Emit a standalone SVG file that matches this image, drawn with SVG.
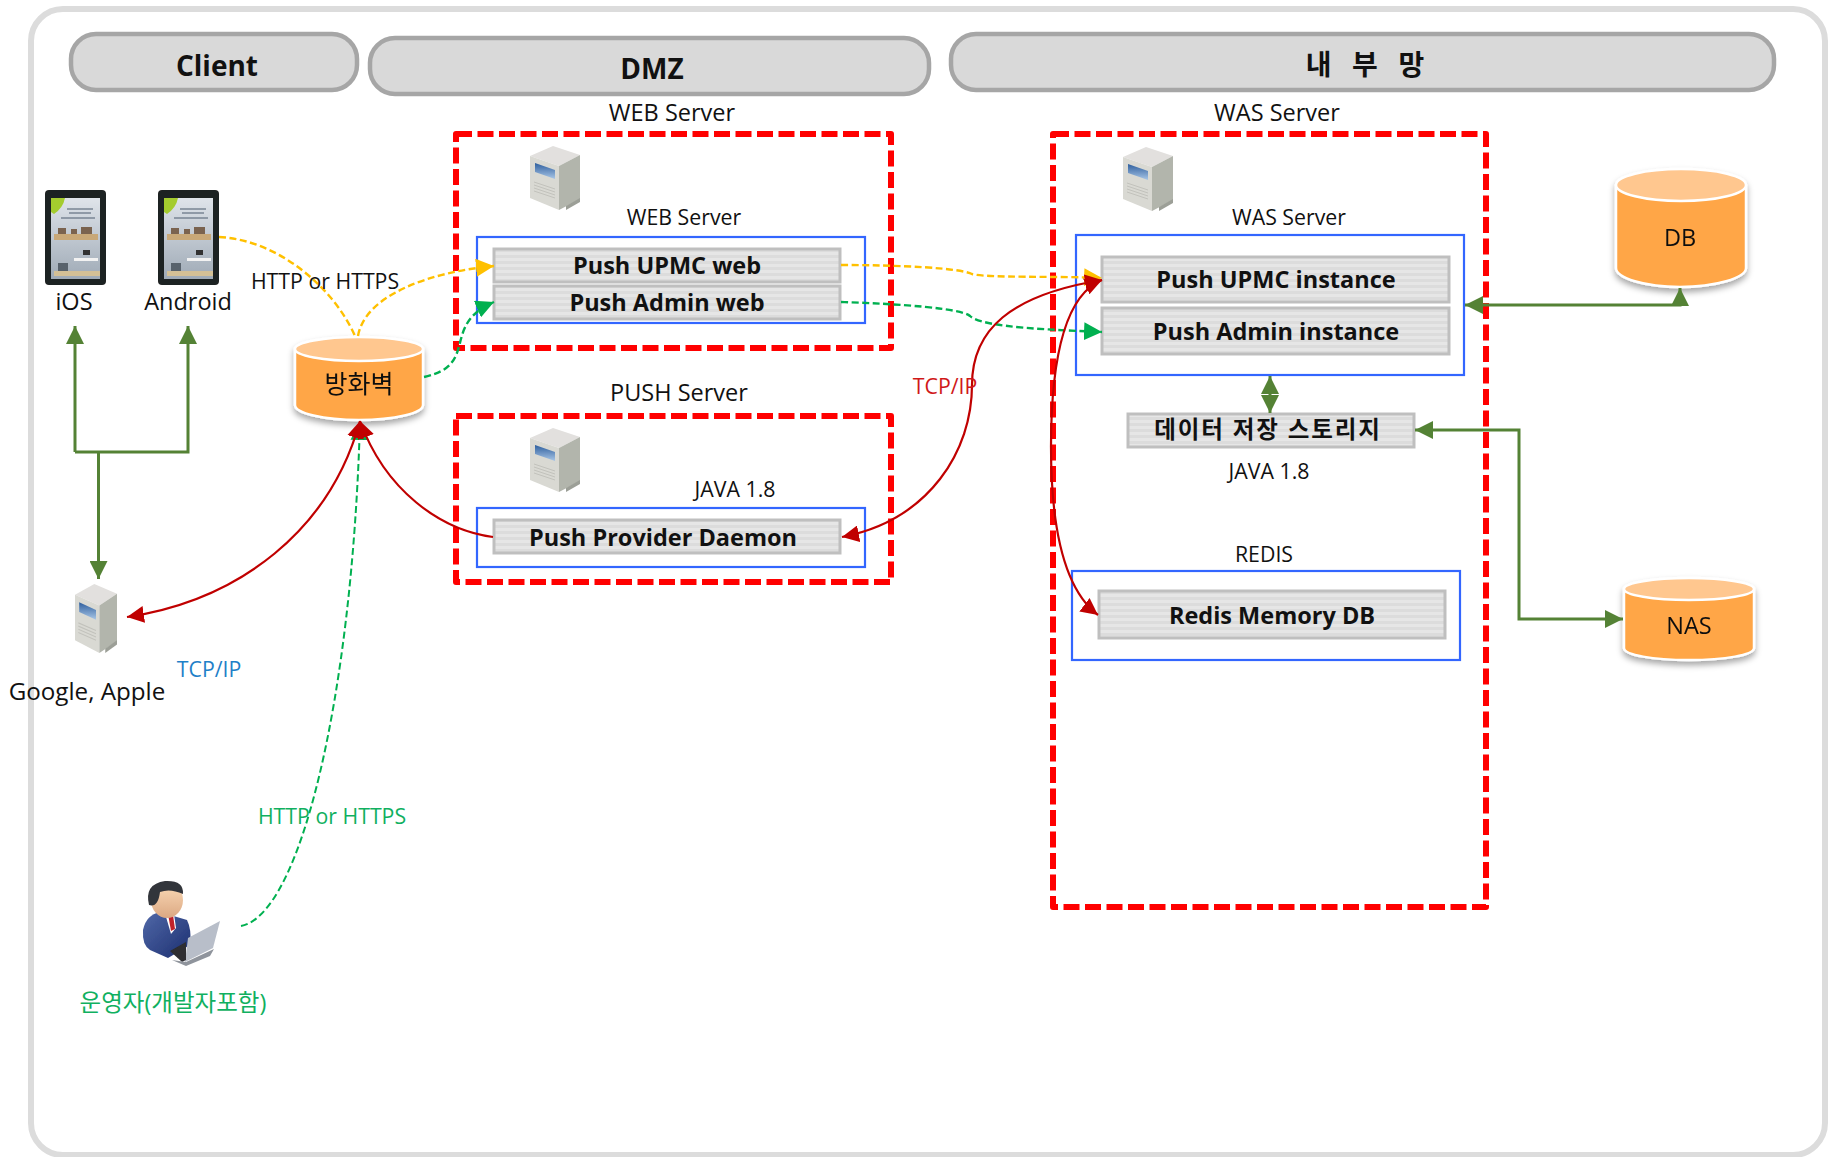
<svg xmlns="http://www.w3.org/2000/svg" xmlns:xlink="http://www.w3.org/1999/xlink" width="1838" height="1157" viewBox="0 0 1838 1157">
<style>
text{font-family:"Open Sans","Noto Sans CJK KR","Noto Sans",sans-serif;text-anchor:middle;dominant-baseline:central;fill:#111}
.hd{fill:#d9d9d9;stroke:#a6a6a6;stroke-width:4.5}
.hdt{font-weight:700;font-size:28px}
.zone{fill:none;stroke:#ff0000;stroke-width:6;stroke-dasharray:16 5.5;stroke-linejoin:round}
.box{fill:#fff;stroke:#3366ff;stroke-width:2.2}
.bar{fill:url(#stripe);stroke:#bfbfbf;stroke-width:3}
.bart{font-weight:700;font-size:23.500px}
.lbl{font-size:23.500px}
.sm{font-size:21.300px}
.cyl{fill:#ffa646;stroke:#fff;stroke-width:2.5}
.cylt{fill:#ffc78f;stroke:#fff;stroke-width:2.5}
.c{fill:none}
.gs{stroke:#548235;stroke-width:3}
.rs{stroke:#c00000;stroke-width:2.2}
.yd{stroke:#ffc000;stroke-width:2.4;stroke-dasharray:7 3.5}
.gd{stroke:#00b050;stroke-width:2.4;stroke-dasharray:7 3.5}
</style>
<defs>
<pattern id="stripe" width="6" height="6" patternUnits="userSpaceOnUse"><rect width="6" height="6" fill="#e6e6e6"/><rect y="3" width="6" height="3" fill="#dcdcdc"/></pattern>
<linearGradient id="scr" x1="0" y1="0" x2="0" y2="1"><stop offset="0" stop-color="#2e5f9e"/><stop offset="1" stop-color="#a9c6e6"/></linearGradient>
<linearGradient id="wall" x1="0" y1="0" x2="0" y2="1"><stop offset="0" stop-color="#dfe4ea"/><stop offset="1" stop-color="#9faab6"/></linearGradient>
<linearGradient id="suit" x1="0" y1="0" x2="1" y2="1"><stop offset="0" stop-color="#5068a8"/><stop offset="1" stop-color="#1c2f70"/></linearGradient>
<linearGradient id="skin" x1="0" y1="0" x2="0" y2="1"><stop offset="0" stop-color="#fbdcb8"/><stop offset="1" stop-color="#dca883"/></linearGradient>
<filter id="sh" x="-10%" y="-10%" width="120%" height="125%"><feDropShadow dx="0" dy="4" stdDeviation="3" flood-color="#000" flood-opacity=".35"/></filter>
<filter id="soft" x="-5%" y="-5%" width="110%" height="110%"><feGaussianBlur stdDeviation=".5"/></filter>
<marker id="gh" viewBox="0 0 18 18" refX="18" refY="9" markerWidth="18" markerHeight="18" markerUnits="userSpaceOnUse" orient="auto-start-reverse"><path d="M0 0L18 9L0 18Z" fill="#548235"/></marker>
<marker id="rh" viewBox="0 0 18 18" refX="18" refY="9" markerWidth="17" markerHeight="17" markerUnits="userSpaceOnUse" orient="auto-start-reverse"><path d="M0 0L18 9L0 18Z" fill="#c00000"/></marker>
<marker id="yh" viewBox="0 0 18 18" refX="18" refY="9" markerWidth="18" markerHeight="18" markerUnits="userSpaceOnUse" orient="auto"><path d="M0 0L18 9L0 18Z" fill="#ffc000"/></marker>
<marker id="dh" viewBox="0 0 18 18" refX="18" refY="9" markerWidth="18" markerHeight="18" markerUnits="userSpaceOnUse" orient="auto"><path d="M0 0L18 9L0 18Z" fill="#00b050"/></marker>
<g id="srv" filter="url(#soft)">
<polygon points="0,10 23,0 50,9 29,20" fill="#e2e0de"/>
<polygon points="0,10 29,20 29,64 0,52" fill="#d9d9d3"/>
<polygon points="29,20 50,9 50,53 29,64" fill="#b2b5ac"/>
<polygon points="5,17 25,24 25,33 5,26" fill="url(#scr)"/>
<path d="M4 36L25 43M4 39L25 46M4 42L25 49M4 45L25 52" stroke="#c2c2bc" stroke-width="1"/>
<polygon points="36,60 50,52 50,56 36,64" fill="#9c9f97"/>
</g>
<g id="tab" filter="url(#soft)">
<rect width="61" height="95" rx="4" fill="#1f2020"/>
<rect x="6" y="8" width="49" height="81" fill="url(#wall)"/>
<path d="M6 8H20Q18 18 9 24L6 22Z" fill="#a4cc2e"/>
<path d="M22 19H48M24 23H46M16 28H50" stroke="#7a8594" stroke-width="1.600"/>
<rect x="9" y="44" width="44" height="6" fill="#c8a878"/>
<path d="M13 44V38H21V44M26 44V39H32V44M36 44V37H47V44" fill="#7a6450"/>
<rect x="29" y="68" width="24" height="3" fill="#f2f2f2"/>
<rect x="38" y="60" width="7" height="5" fill="#333"/>
<rect x="9" y="81" width="46" height="5" fill="#d4c096"/>
<rect x="13" y="73" width="10" height="8" fill="#59626c"/>
</g>
</defs>

<rect id="frame" x="31" y="9" width="1794" height="1146" rx="32" fill="#fff" stroke="#dcdcdc" stroke-width="6"/>

<g id="hdr-client"><rect class="hd" x="71" y="34" width="286" height="56" rx="25"/><text class="hdt" x="217" y="65">Client</text></g>
<g id="hdr-dmz"><rect class="hd" x="370" y="38" width="559" height="56" rx="25"/><text class="hdt" x="652" y="68">DMZ</text></g>
<g id="hdr-internal"><rect class="hd" x="951" y="34" width="823" height="56" rx="25"/><text class="hdt" x="1366" y="64" xml:space="preserve" letter-spacing="2">내  부  망</text></g>

<g id="web-zone"><rect class="zone" x="456" y="134" width="435" height="214"/><text class="lbl" x="672" y="112">WEB Server</text>
<use xlink:href="#srv" href="#srv" x="530" y="146"/><text class="sm" x="684" y="216">WEB Server</text></g>
<g id="push-zone"><rect class="zone" x="456" y="416" width="435" height="166"/><text class="lbl" x="679" y="392">PUSH Server</text>
<use xlink:href="#srv" href="#srv" x="530" y="428"/><text class="sm" x="735" y="488">JAVA 1.8</text></g>
<g id="was-zone"><rect class="zone" x="1053" y="134" width="433" height="773"/><text class="lbl" x="1277" y="112">WAS Server</text>
<use xlink:href="#srv" href="#srv" x="1123" y="147"/><text class="sm" x="1289" y="216">WAS Server</text></g>

<g id="web-box"><rect class="box" x="477" y="237" width="388" height="86"/>
<g id="push-upmc-web"><rect class="bar" x="494" y="249" width="346" height="33"/><text class="bart" x="667" y="265">Push UPMC web</text></g>
<g id="push-admin-web"><rect class="bar" x="494" y="286" width="346" height="33"/><text class="bart" x="667" y="302">Push Admin web</text></g></g>

<g id="push-box"><rect class="box" x="477" y="508" width="388" height="59"/>
<g id="push-provider"><rect class="bar" x="494" y="520" width="346" height="33"/><text class="bart" x="663" y="537">Push Provider Daemon</text></g></g>

<g id="was-box"><rect class="box" x="1076" y="235" width="388" height="140"/>
<g id="push-upmc-inst"><rect class="bar" x="1102" y="257" width="347" height="45"/><text class="bart" x="1276" y="279">Push UPMC instance</text></g>
<g id="push-admin-inst"><rect class="bar" x="1102" y="308" width="347" height="46"/><text class="bart" x="1276" y="331">Push Admin instance</text></g></g>

<g id="storage"><rect class="bar" x="1128" y="414" width="286" height="33"/><text class="bart" x="1268" y="429" letter-spacing="1.900">데이터 저장 스토리지</text><text class="sm" x="1269" y="470">JAVA 1.8</text></g>

<g id="redis"><text class="sm" x="1264" y="553">REDIS</text><rect class="box" x="1072" y="571" width="388" height="89"/>
<rect class="bar" x="1099" y="591" width="346" height="47"/><text class="bart" x="1272" y="615">Redis Memory DB</text></g>

<g id="db" filter="url(#sh)"><path class="cyl" d="M1616 186V268C1616 278 1645 287 1680 287S1746 278 1746 268V186Z"/><ellipse class="cylt" cx="1681" cy="185" rx="65" ry="16"/><text class="lbl" x="1680" y="237">DB</text></g>
<g id="nas" filter="url(#sh)"><path class="cyl" d="M1624 589V648C1624 655 1653 660 1689 660S1754 655 1754 648V589Z"/><ellipse class="cylt" cx="1689" cy="589" rx="65" ry="11"/><text class="lbl" x="1689" y="625">NAS</text></g>
<g id="firewall" filter="url(#sh)"><path class="cyl" d="M295 349V405C295 413 323 420 359 420S423 413 423 405V349Z"/><ellipse class="cylt" cx="359" cy="349" rx="64" ry="12"/><text class="lbl" x="359" y="383" style="font-size:25px">방화벽</text></g>

<g id="ios"><use xlink:href="#tab" href="#tab" x="45" y="190"/><text class="lbl" x="74" y="301">iOS</text></g>
<g id="android"><use xlink:href="#tab" href="#tab" x="158" y="190"/><text class="lbl" x="188" y="301">Android</text></g>
<g id="google-apple"><use xlink:href="#srv" href="#srv" transform="translate(75 584) scale(.84 1.08)"/><text class="lbl" x="87" y="690" style="font-size:24.200px">Google, Apple</text></g>

<g id="operator" filter="url(#soft)">
<path d="M143 930Q146 915 160 912L187 920Q192 930 190 945L168 958L150 950Q142 945 143 930Z" fill="url(#suit)"/>
<polygon points="164,910 174,914 176,928 171,934" fill="#fff"/>
<polygon points="168,914 173,915 175,929 171,931" fill="#c0202a"/>
<ellipse cx="167" cy="900" rx="16" ry="18" fill="url(#skin)"/>
<path d="M149 905Q144 884 165 881Q184 880 183 894Q170 888 160 892Q158 908 149 905Z" fill="#33343a"/>
<polygon points="188,938 220,921 213,948 185,962" fill="#b8bec9"/>
<polygon points="170,951 186,942 186,960 182,962" fill="#2d2d30"/>
<polygon points="172,960 186,962 214,949 210,956 186,966" fill="#8f949c"/>
</g>

<g id="connectors" class="c">
<path class="gs c" d="M75 452V326" marker-end="url(#gh)"/>
<path class="gs c" d="M75 452H188V326" marker-end="url(#gh)"/>
<path class="gs c" d="M98.500 452V579" marker-end="url(#gh)"/>
<path class="yd c" d="M219 237C280 240 335 290 355 336"/>
<path class="yd c" d="M358 336C365 295 430 272 494 266" marker-end="url(#yh)"/>
<path class="gd c" d="M424 377C480 365 440 325 494 302" marker-end="url(#dh)"/>
<path class="gd c" d="M841 302C900 304 960 308 970 316C982 328 1060 330 1102 332" marker-end="url(#dh)"/>
<path class="gd c" style="stroke-width:2" d="M241 926C300 915 352 700 360 422" marker-end="url(#dh)"/>
<path class="rs c" d="M493 537C440 530 385 490 360 421" marker-end="url(#rh)"/>
<path class="rs c" d="M127 617C240 600 330 530 360 421" marker-start="url(#rh)" marker-end="url(#rh)"/>
<path class="yd c" d="M841 265C900 265 960 268 972 274C985 278 1060 276 1102 278" marker-end="url(#yh)"/>
<path class="rs c" d="M842 537C930 520 972 450 972 385C972 330 1010 295 1102 280" marker-start="url(#rh)" marker-end="url(#rh)"/>
<path class="rs c" d="M1102 280C1065 295 1051 360 1051 447C1051 530 1065 590 1098 615" marker-start="url(#rh)" marker-end="url(#rh)"/>
<path class="gs c" d="M1465 305H1680V288" marker-start="url(#gh)" marker-end="url(#gh)"/>
<path class="gs c" d="M1415 430H1519V619H1623" marker-start="url(#gh)" marker-end="url(#gh)"/>
<path class="gs c" d="M1270 376V413" marker-start="url(#gh)" marker-end="url(#gh)"/>
</g>

<g id="labels">
<text class="sm" x="325" y="280">HTTP or HTTPS</text>
<text class="sm" x="945" y="385" style="fill:#d01818">TCP/IP</text>
<text class="sm" x="209" y="668" style="fill:#1f80c8">TCP/IP</text>
<text class="sm" x="332" y="815" style="fill:#10b060">HTTP or HTTPS</text>
<text class="sm" x="173" y="1002" style="fill:#10b060;font-size:23.500px">운영자(개발자포함)</text>
</g>
</svg>
